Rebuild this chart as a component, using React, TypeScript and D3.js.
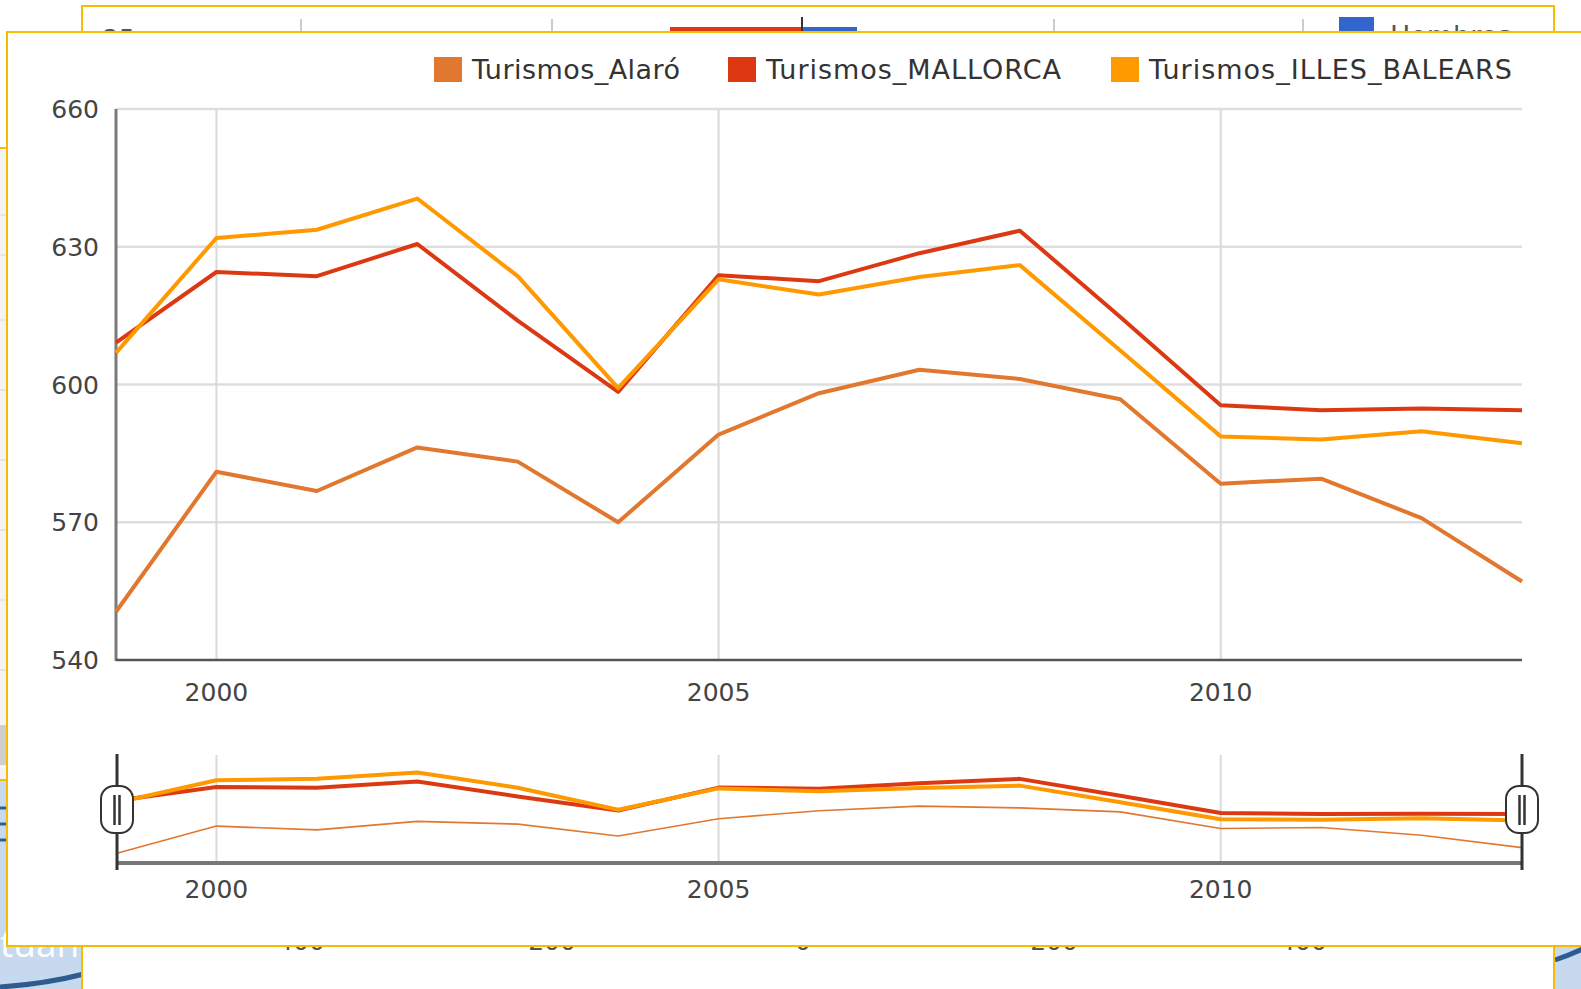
import React from "react"
import * as d3 from "d3"

const years = [1999, 2000, 2001, 2002, 2003, 2004, 2005, 2006, 2007, 2008, 2009, 2010, 2011, 2012, 2013]

const alaro = [550.5, 581, 576.8, 586.3, 583.2, 570, 589.1, 598.1, 603.2, 601.2, 596.8, 578.4, 579.5, 570.9, 557.1]
const mallorca = [609.1, 624.5, 623.6, 630.6, 613.9, 598.4, 623.8, 622.5, 628.6, 633.5, 614.7, 595.5, 594.4, 594.8, 594.4]
const illesBalears = [606.9, 631.9, 633.7, 640.5, 623.6, 599.2, 622.9, 619.6, 623.4, 626, 607.4, 588.7, 588, 589.8, 587.2]

const seriesNames = ["Turismos_Alaró", "Turismos_MALLORCA", "Turismos_ILLES_BALEARS"]
const seriesColors = ["#e2772f", "#dc3912", "#ff9900"]
const seriesValues = [alaro, mallorca, illesBalears]

const yTicks = [540, 570, 600, 630, 660]
const xTicks = [2000, 2005, 2010]

const backTicks = ["400", "200", "0", "200", "400"]

const W = 1581
const H = 989
const FONT = "'DejaVu Sans', Verdana, sans-serif"
const BORDER = "#f5bd00"

export default function App() {
  const x = d3.scaleLinear().domain([1999, 2013]).range([116, 1522])
  const y = d3.scaleLinear().domain([540, 660]).range([660, 109])
  const yMini = d3.scaleLinear().domain([540, 660]).range([863, 755])

  const mainLine = d3
    .line<number>()
    .x((_, i) => x(years[i]))
    .y((d) => y(d))
  const miniLine = d3
    .line<number>()
    .x((_, i) => x(years[i]))
    .y((d) => yMini(d))

  // legend slots, right aligned like the google annotated timeline
  const legendX = [434, 728, 1111]
  const legendTextW = [208, 295, 363]

  const backCols = [301, 552, 803, 1054, 1303]

  const handle = (hx: number, key: string) => (
    <g key={key}>
      <line x1={hx} x2={hx} y1={754} y2={870} stroke="#333" strokeWidth={3} />
      <rect x={hx - 16} y={786} width={32} height={47} rx={13} fill="#fff" stroke="#333" strokeWidth={2} />
      <line x1={hx - 2.5} x2={hx - 2.5} y1={795} y2={825} stroke="#333" strokeWidth={2.5} />
      <line x1={hx + 2.5} x2={hx + 2.5} y1={795} y2={825} stroke="#333" strokeWidth={2.5} />
    </g>
  )

  return (
    <svg
      width={W}
      height={H}
      style={{ position: "absolute", left: 0, top: 0, background: "#fff" }}
      fontFamily={FONT}
    >
      {/* stuff behind the popup */}
      <rect x={0} y={150} width={8} height={630} fill="#f4f4f4" />
      {[215, 255, 320, 390, 460, 530, 600, 670].map((yy) => (
        <line key={yy} x1={0} x2={8} y1={yy} y2={yy} stroke="#e2e2e2" strokeWidth={1.5} />
      ))}
      <rect x={0} y={725} width={8} height={40} fill="#cfcfcf" />
      <line x1={0} x2={8} y1={148} y2={148} stroke={BORDER} strokeWidth={2} />
      <line x1={0} x2={8} y1={780} y2={780} stroke={BORDER} strokeWidth={2} />
      <rect x={0} y={781} width={84} height={208} fill="#c6d9ef" />
      {[808, 824, 840].map((yy) => (
        <line key={yy} x1={0} x2={8} y1={yy} y2={yy} stroke="#2f5b8f" strokeWidth={3} />
      ))}
      <text x={0} y={957} fontSize={37} fill="#fff" fontFamily="'Open Sans', sans-serif">
        tuan
      </text>
      <path d="M0,987 Q45,984 84,974" fill="none" stroke="#2f5b8f" strokeWidth={5} />
      <rect x={1555} y={940} width={30} height={50} fill="#c6d9ef" />
      <path d="M1555,960 Q1570,955 1585,948" fill="none" stroke="#2f5b8f" strokeWidth={5} />

      {/* back panel */}
      <rect x={82} y={6} width={1472} height={1000} fill="#fff" stroke={BORDER} strokeWidth={2} />
      {[301, 552, 1054, 1303].map((cx) => (
        <line key={cx} x1={cx} x2={cx} y1={19} y2={34} stroke="#ccc" strokeWidth={2} />
      ))}
      <rect x={670} y={27} width={132} height={7} fill="#dc3912" />
      <rect x={802} y={27} width={55} height={7} fill="#3366cc" />
      <line x1={802} x2={802} y1={17} y2={34} stroke="#333" strokeWidth={2} />
      <text x={103} y={47} fontSize={25} fill="#555">
        25
      </text>
      <rect x={1339} y={17} width={35} height={17} fill="#3366cc" />
      <text x={1390} y={45} fontSize={27} fill="#555">
        Hombres
      </text>
      {backTicks.map((t, i) => (
        <text key={i} x={backCols[i]} y={950} fontSize={25} fill="#555" textAnchor="middle">
          {t}
        </text>
      ))}

      {/* front popup */}
      <rect x={7} y={32} width={1600} height={914} fill="#fff" stroke={BORDER} strokeWidth={2} />

      {/* legend */}
      {seriesNames.map((name, i) => (
        <g key={name}>
          <rect x={legendX[i]} y={57} width={28} height={25} fill={seriesColors[i]} />
          <text
            x={legendX[i] + 38}
            y={79}
            fontSize={27}
            fill="#333"
            textLength={legendTextW[i]}
            lengthAdjust="spacing"
          >
            {name}
          </text>
        </g>
      ))}

      {/* main grid */}
      {yTicks.slice(1).map((t) => (
        <line key={t} x1={x(1999)} x2={x(2013)} y1={y(t)} y2={y(t)} stroke="#dedede" strokeWidth={2.5} />
      ))}
      {xTicks.map((t) => (
        <line key={t} x1={x(t)} x2={x(t)} y1={y(660)} y2={y(540)} stroke="#d9d9d9" strokeWidth={2} />
      ))}
      <line x1={x(1999)} x2={x(1999)} y1={y(660)} y2={y(540) + 1} stroke="#7a7a7a" strokeWidth={3} />
      <line x1={x(1999)} x2={x(2013)} y1={y(540)} y2={y(540)} stroke="#555" strokeWidth={2.5} />
      {yTicks.map((t) => (
        <text key={t} x={99} y={y(t)} dy="0.36em" fontSize={25} fill="#444" textAnchor="end">
          {t}
        </text>
      ))}
      {xTicks.map((t) => (
        <text key={t} x={x(t)} y={701} fontSize={25} fill="#444" textAnchor="middle">
          {t}
        </text>
      ))}

      {/* main series */}
      {seriesValues.map((vals, i) => (
        <path
          key={seriesNames[i]}
          d={mainLine(vals) ?? ""}
          fill="none"
          stroke={seriesColors[i]}
          strokeWidth={4}
          strokeLinejoin="round"
        />
      ))}

      {/* range selector */}
      {xTicks.map((t) => (
        <line key={t} x1={x(t)} x2={x(t)} y1={755} y2={863} stroke="#dadada" strokeWidth={2} />
      ))}
      {seriesValues.map((vals, i) => (
        <path
          key={seriesNames[i]}
          d={miniLine(vals) ?? ""}
          fill="none"
          stroke={seriesColors[i]}
          strokeWidth={i === 0 ? 1.6 : 4}
          strokeLinejoin="round"
        />
      ))}
      <line x1={x(1999)} x2={x(2013)} y1={863} y2={863} stroke="#777" strokeWidth={4} />
      {xTicks.map((t) => (
        <text key={t} x={x(t)} y={898} fontSize={25} fill="#444" textAnchor="middle">
          {t}
        </text>
      ))}
      {handle(x(1999) + 1, "left")}
      {handle(x(2013), "right")}
    </svg>
  )
}
